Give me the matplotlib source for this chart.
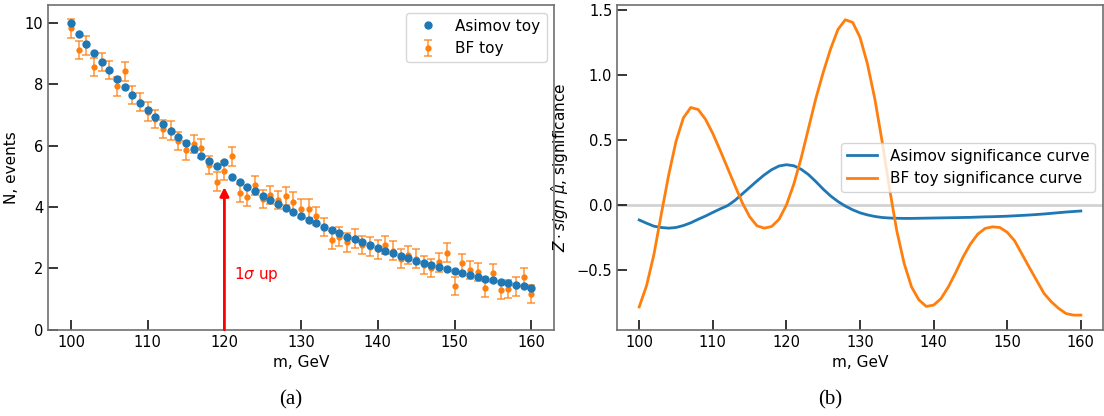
import numpy as np
import matplotlib
matplotlib.use('Agg')
import matplotlib.pyplot as plt

# masses
m = np.arange(100, 161)

# (a) events per mass bin
asimov_n = [10.00, 9.65, 9.32, 9.02, 8.73, 8.45, 8.18, 7.91, 7.65, 7.40,
            7.16, 6.93, 6.71, 6.49, 6.28, 6.08, 5.88, 5.68, 5.50, 5.33,
            5.46, 4.98, 4.82, 4.67, 4.51, 4.36, 4.23, 4.09, 3.96, 3.83,
            3.71, 3.58, 3.47, 3.36, 3.24, 3.14, 3.04, 2.95, 2.85, 2.76,
            2.67, 2.58, 2.50, 2.42, 2.34, 2.26, 2.18, 2.11, 2.04, 1.98,
            1.91, 1.85, 1.79, 1.73, 1.67, 1.62, 1.57, 1.52, 1.47, 1.42,
            1.38]
bf_n = [9.82, 9.12, 9.27, 8.57, 8.72, 8.46, 7.93, 8.42, 7.66, 7.42,
        7.11, 6.86, 6.54, 6.50, 6.16, 5.85, 6.05, 5.91, 5.37, 4.83,
        5.19, 5.65, 4.45, 4.33, 4.71, 4.27, 4.40, 4.24, 4.36, 4.18,
        3.95, 3.95, 3.71, 3.36, 2.93, 3.04, 2.85, 2.98, 2.77, 2.71,
        2.62, 2.76, 2.58, 2.32, 2.43, 2.32, 2.11, 2.02, 2.20, 2.52,
        1.43, 2.17, 1.96, 1.89, 1.38, 1.85, 1.30, 1.33, 1.42, 1.73,
        1.16]
bf_err = 0.3
signal_m = 120
arrow_top = 4.65

# (b) significance curves
asimov_z = [-0.115, -0.14, -0.163, -0.173, -0.178, -0.173, -0.158, -0.137, -0.11, -0.085,
            -0.057, -0.03, -0.005, 0.035, 0.085, 0.135, 0.185, 0.232, 0.272, 0.300,
            0.310, 0.302, 0.275, 0.234, 0.18, 0.122, 0.07, 0.027, -0.008, -0.037,
            -0.06, -0.076, -0.088, -0.096, -0.1, -0.102, -0.103, -0.103, -0.102, -0.101,
            -0.1, -0.099, -0.098, -0.097, -0.096, -0.095, -0.093, -0.091, -0.09, -0.088,
            -0.086, -0.083, -0.08, -0.077, -0.073, -0.069, -0.064, -0.059, -0.054, -0.05,
            -0.046]
bf_z = [-0.784, -0.62, -0.38, -0.07, 0.23, 0.49, 0.67, 0.75, 0.735, 0.66,
        0.55, 0.42, 0.285, 0.15, 0.018, -0.09, -0.16, -0.178, -0.165, -0.11,
        0.0, 0.16, 0.36, 0.59, 0.82, 1.02, 1.20, 1.35, 1.425, 1.405,
        1.29, 1.087, 0.82, 0.49, 0.13, -0.2, -0.45, -0.63, -0.73, -0.78,
        -0.77, -0.72, -0.63, -0.52, -0.40, -0.30, -0.224, -0.18, -0.168, -0.173,
        -0.21, -0.275, -0.377, -0.48, -0.58, -0.68, -0.745, -0.796, -0.835, -0.847,
        -0.847]

blue = '#1f77b4'
orange = '#ff7f0e'

fig = plt.figure(figsize=(11.04, 4.16), dpi=100)
ax1 = fig.add_axes([0.0435, 0.207, 0.4585, 0.781])
ax2 = fig.add_axes([0.559, 0.207, 0.440, 0.781])


def style(ax):
    for s in ax.spines.values():
        s.set_color('#707070')
        s.set_linewidth(1.2)
    ax.tick_params(direction='in', length=7, width=1.1, labelsize=10.5,
                   color='black', top=False, right=False)


# Del a
ax1.plot(m, asimov_n, 'o', color=blue, ms=5, label='Asimov toy', zorder=3)
eb = ax1.errorbar(m, bf_n, yerr=bf_err, fmt='o', color=orange, ms=3.5,
                  elinewidth=1.2, capsize=3, capthick=1.2, label='BF toy', zorder=2)
for part in eb[1] + eb[2]:
    part.set_alpha(0.75)
ax1.annotate('', xy=(signal_m, arrow_top), xytext=(signal_m, 0),
             arrowprops=dict(arrowstyle='-|>', color='red', lw=2, mutation_scale=13,
                             shrinkA=0, shrinkB=0), zorder=4)
ax1.text(signal_m + 1.3, 1.8, r'1$\sigma$ up', color='red', fontsize=11, va='center')
ax1.set_xlabel('m, GeV', fontsize=11)
ax1.set_ylabel('N, events', fontsize=11)
ax1.set_xticks([100, 110, 120, 130, 140, 150, 160])
ax1.set_yticks([0, 2, 4, 6, 8, 10])
ax1.legend(loc='upper right', fontsize=11)
style(ax1)

# Del b
ax2.axhline(0, color='lightgray', lw=2, zorder=1)
ax2.plot(m, asimov_z, color=blue, lw=2, label='Asimov significance curve')
ax2.plot(m, bf_z, color=orange, lw=2, label='BF toy significance curve')
ax2.set_xlabel('m, GeV', fontsize=11)
ax2.set_ylabel(r'$Z \cdot sign\ \hat{\mu}$, significance', fontsize=11)
ax2.set_xticks([100, 110, 120, 130, 140, 150, 160])
ax2.set_yticks([-0.5, 0.0, 0.5, 1.0, 1.5])
ax2.legend(loc='center right', fontsize=11)
style(ax2)

fig.text(0.263, 0.038, '(a)', fontsize=15, family='Liberation Serif', ha='center', va='center')
fig.text(0.752, 0.038, '(b)', fontsize=15, family='Liberation Serif', ha='center', va='center')

fig.savefig('out.png', dpi=100)
